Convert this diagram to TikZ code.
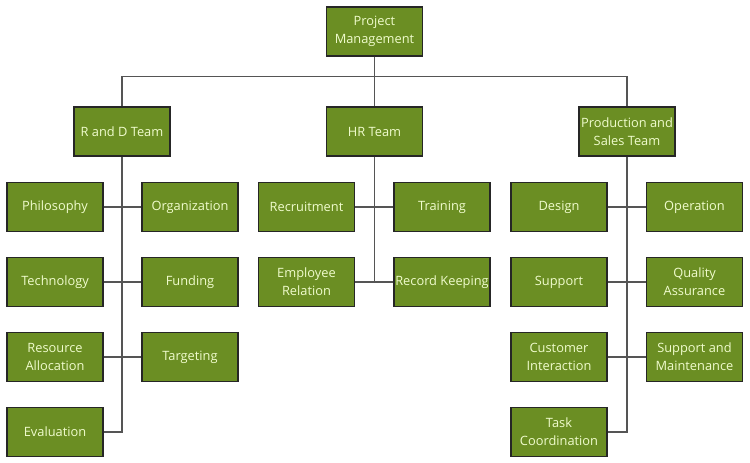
\documentclass[tikz,border=0pt]{standalone}
\usepackage{fontspec}
\setmainfont{Open Sans}
\usepackage{xcolor}
\usepackage{tikz}
\usetikzlibrary{positioning}

\definecolor{boxfill}{RGB}{107,142,35}
\definecolor{boxtext}{RGB}{240,252,205}
\definecolor{linkgray}{RGB}{85,85,85}

\tikzset{
	unit/.style={draw=black!85, line width=0.6pt, fill=boxfill, text=boxtext,
		minimum width=1.92cm, minimum height=0.98cm, inner sep=0pt, align=center,
		font=\fontsize{7.3}{10.4}\selectfont},
	link/.style={draw=linkgray, line width=0.9pt}
}

\begin{document}
\begin{tikzpicture}
	\useasboundingbox (0,0) rectangle (15,-9.26);
	\node[unit] (pm) at (7.49,-0.63) {Project\\Management};
	\node[unit] (rd) at (2.44,-2.63) {R and D Team};
	\node[unit] (hr) at (7.49,-2.63) {HR Team};
	\node[unit] (ps) at (12.54,-2.63) {Production and\\Sales Team};
	% R and D
	\node[unit] (philosophy) at (1.10,-4.14) {Philosophy};
	\node[unit] (organization) at (3.80,-4.14) {Organization};
	\node[unit] (technology) at (1.10,-5.64) {Technology};
	\node[unit] (funding) at (3.80,-5.64) {Funding};
	\node[unit] (resource) at (1.10,-7.14) {Resource\\Allocation};
	\node[unit] (targeting) at (3.80,-7.14) {Targeting};
	\node[unit] (evaluation) at (1.10,-8.64) {Evaluation};
	% HR
	\node[unit] (recruitment) at (6.13,-4.14) {Recruitment};
	\node[unit] (training) at (8.84,-4.14) {Training};
	\node[unit] (employee) at (6.13,-5.64) {Employee\\Relation};
	\node[unit] (record) at (8.84,-5.64) {Record Keeping};
	% Production and Sales
	\node[unit] (design) at (11.18,-4.14) {Design};
	\node[unit] (operation) at (13.89,-4.14) {Operation};
	\node[unit] (support) at (11.18,-5.64) {Support};
	\node[unit] (quality) at (13.89,-5.64) {Quality\\Assurance};
	\node[unit] (customer) at (11.18,-7.14) {Customer\\Interaction};
	\node[unit] (maintenance) at (13.89,-7.14) {Support and\\Maintenance};
	\node[unit] (task) at (11.18,-8.64) {Task\\Coordination};
	\draw[link] (pm.south) -- ++(0,-0.4) -| (rd.north);
	\draw[link] (pm.south) -- (hr.north);
	\draw[link] (pm.south) -- ++(0,-0.4) -| (ps.north);
	\draw[link] (rd.south) |- (evaluation.east);
	\draw[link] (philosophy.east) -- (organization.west);
	\draw[link] (technology.east) -- (funding.west);
	\draw[link] (resource.east) -- (targeting.west);
	\draw[link] (hr.south) |- (employee.east);
	\draw[link] (recruitment.east) -- (training.west);
	\draw[link] (employee.east) -- (record.west);
	\draw[link] (ps.south) |- (task.east);
	\draw[link] (design.east) -- (operation.west);
	\draw[link] (support.east) -- (quality.west);
	\draw[link] (customer.east) -- (maintenance.west);
\end{tikzpicture}
\end{document}
